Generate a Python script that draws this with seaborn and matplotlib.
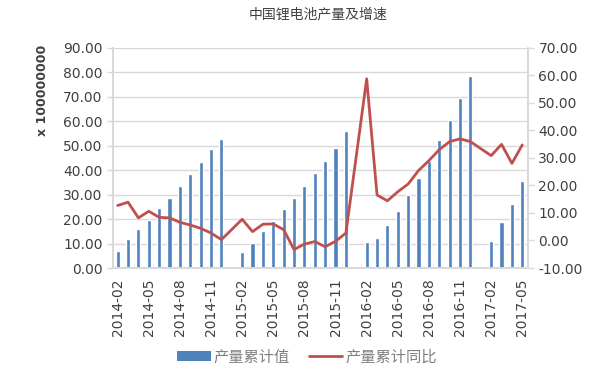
import numpy as np
import pandas as pd
import matplotlib
matplotlib.use("Agg")
import matplotlib.pyplot as plt
import seaborn as sns
from matplotlib.patches import Patch
from matplotlib.lines import Line2D

sns.set_theme(style="white")
plt.rcParams['font.family'] = ['Noto Sans CJK SC', 'DejaVu Sans']

title = "中国锂电池产量及增速"
ylabel_left = "x 100000000"
bar_name = "产量累计值"
line_name = "产量累计同比"

months = [str(p) for p in pd.period_range("2014-02", "2017-05", freq="M")]

# cumulative production (x 1e8), January not reported
production = [7.1, 11.7, 16.0, 19.8, 24.4, 28.6, 33.4, 38.2, 43.2, 48.5, 52.6,
              None, 6.7, 10.2, 15.1, 19.4, 24.1, 28.6, 33.4, 38.7, 43.6, 49.1, 55.9,
              None, 10.6, 12.1, 17.6, 23.4, 29.7, 36.7, 43.6, 52.4, 60.3, 69.4, 78.4,
              None, 11.2, 18.9, 26.3, 35.6]
# cumulative YoY growth (%)
growth = [12.7, 13.9, 8.2, 10.6, 8.4, 8.2, 6.6, 5.6, 4.4, 2.7, 0.3,
          None, 7.7, 3.2, 5.9, 6.0, 3.9, -3.3, -1.3, -0.4, -2.3, -0.3, 2.7,
          None, 58.7, 16.5, 14.4, 17.7, 20.5, 25.4, 29.0, 33.0, 35.9, 36.9, 35.9,
          None, 30.8, 34.9, 28.0, 34.7]

left_ticks = [0, 10, 20, 30, 40, 50, 60, 70, 80, 90]
right_ticks = [-10, 0, 10, 20, 30, 40, 50, 60, 70]

df = pd.DataFrame({"month": months,
                   "pos": np.arange(len(months)),
                   "production": pd.to_numeric(pd.Series(production), errors="coerce"),
                   "growth": pd.to_numeric(pd.Series(growth), errors="coerce")})

bar_color = "#4F81BD"
line_color = "#C0504D"
grid_color = "#D9D9D9"
text_color = "#404040"

fig = plt.figure(figsize=(6.0, 3.74), dpi=100)
ax = fig.add_axes([113/600, 1 - 268/374, (528-113)/600, (268-47.7)/374])

dfb = df.dropna(subset=["production"])
sns.barplot(data=dfb, x="month", y="production", order=months, color=bar_color,
            saturation=1, width=0.4, ax=ax, errorbar=None)
ax.set_xlim(-0.45, len(months) - 0.45)
ax.set_ylim(0, 90)
ax.set_yticks(left_ticks)
ax.set_yticklabels([f"{v:.2f}" for v in left_ticks], color=text_color, fontsize=10,
                   family="DejaVu Sans")
ax.yaxis.grid(True, color=grid_color, linewidth=1)
ax.set_axisbelow(True)
ax.set_xlabel("")
ax.set_ylabel("")
idx = list(range(0, len(months), 3))
ax.set_xticks(idx)
ax.set_xticklabels([months[i] for i in idx], rotation=90, color=text_color, fontsize=10,
                   family="DejaVu Sans")
ax.tick_params(axis="both", length=4, color=grid_color, width=1)
for s in ["left", "bottom", "right"]:
    ax.spines[s].set_color(grid_color)
ax.spines["top"].set_visible(False)

ax2 = ax.twinx()
dfl = df.dropna(subset=["growth"])
sns.lineplot(data=dfl, x="pos", y="growth", color=line_color, linewidth=2, ax=ax2)
ax2.set_ylim(-10, 70)
ax2.set_yticks(right_ticks)
ax2.set_yticklabels([f"{v:.2f}" for v in right_ticks], color=text_color, fontsize=10,
                    family="DejaVu Sans")
ax2.set_ylabel("")
ax2.set_xlabel("")
ax2.tick_params(axis="y", length=4, color=grid_color, width=1)
for s in ["left", "bottom", "right"]:
    ax2.spines[s].set_color(grid_color)
ax2.spines["top"].set_visible(False)
ax2.set_xlim(-0.45, len(months) - 0.45)

fig.text(318/600, 1 - 14/374, title, ha="center", va="center", fontsize=10,
         color=text_color)
fig.text(43/600, 1 - 90/374, ylabel_left, rotation=90, ha="center", va="center",
         fontsize=9, fontweight="bold", color=text_color, family="DejaVu Sans")

handles = [Patch(facecolor=bar_color, edgecolor="none"),
           Line2D([0], [0], color=line_color, linewidth=2)]
leg = fig.legend(handles, [bar_name, line_name], loc="center",
                 bbox_to_anchor=(307/600, 1 - 357/374), ncol=2, frameon=False,
                 fontsize=11, handlelength=2.2, handleheight=0.55, handletextpad=0.2,
                 columnspacing=1.2, labelcolor="#808080")

fig.savefig("out.png", dpi=100)
